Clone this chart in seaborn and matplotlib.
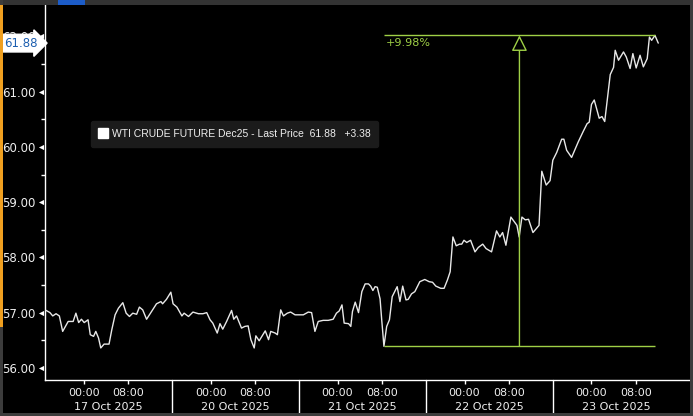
import numpy as np
import pandas as pd
import matplotlib
matplotlib.use('Agg')
import matplotlib.pyplot as plt
import matplotlib.transforms as mtransforms
from matplotlib.lines import Line2D
from matplotlib.patches import Rectangle
import seaborn as sns

# trading hours since the 17 Oct session open (each session compressed to 23 h, 17:00 -> 16:00)
hours = [0.2, 0.9, 1.4, 2.0, 2.6, 3.2, 4.2, 5.1, 5.6, 6.1, 6.6, 7.1, 7.8, 8.2, 8.8, 9.2, 9.7,
         10.1, 10.7, 11.6, 12.1, 12.7, 13.3, 14.1, 14.7, 15.3, 15.9, 16.6, 17.1, 17.7, 18.4,
         19.3, 20.2, 21.0, 21.3, 22.0, 22.8, 23.2, 23.9, 24.8, 25.2, 26.0, 26.8, 27.8, 28.6,
         29.3, 29.9, 30.4, 31.2, 31.7, 32.2, 32.9, 33.8, 34.2, 34.7, 35.6, 36.2, 36.8, 37.3,
         37.9, 38.2, 38.8, 39.9, 40.5, 40.9, 41.7, 42.1, 42.7, 43.2, 43.9, 44.5, 45.3, 46.8,
         47.7, 48.3, 48.9, 49.5, 50.4, 51.3, 52.2, 52.8, 53.3, 53.8, 54.2, 55.0, 55.4, 55.7,
         56.2, 56.8, 57.4, 58.0, 58.6, 59.0, 59.4, 59.8, 60.2, 60.7, 61.0, 61.4, 61.9, 62.4,
         62.9, 63.8, 64.3, 64.8, 65.4, 65.8, 66.4, 67.0, 67.9, 68.8, 69.6, 70.2, 70.8, 71.7,
         72.3, 72.9, 73.4, 73.9, 74.5, 75.1, 75.5, 75.9, 76.4, 77.1, 77.9, 78.5, 79.3, 79.9,
         80.9, 81.8, 82.4, 82.9, 83.5, 84.4, 85.5, 85.9, 86.4, 87.0, 87.6, 88.4, 89.5, 90.0,
         90.8, 91.5, 92.0, 92.7, 93.6, 94.0, 94.5, 95.4, 96.6, 97.5, 98.2, 98.6, 99.0, 99.5,
         100.4, 100.9, 101.4, 102.0, 102.4, 103.0, 103.3, 103.9, 104.8, 105.3, 106.0, 106.5,
         107.1, 107.8, 108.4, 109.1, 109.5, 109.9, 110.5, 111.1]
prices = [57.04, 57.00, 56.94, 56.98, 56.94, 56.66, 56.84, 56.84, 56.99, 56.82, 56.88, 56.82,
          56.87, 56.60, 56.57, 56.66, 56.54, 56.36, 56.43, 56.43, 56.69, 56.96, 57.08, 57.18,
          56.99, 56.93, 56.99, 56.97, 57.10, 57.05, 56.88, 57.02, 57.16, 57.20, 57.16, 57.24,
          57.37, 57.16, 57.10, 56.94, 56.99, 56.93, 57.01, 56.98, 56.98, 57.00, 56.87, 56.81,
          56.63, 56.80, 56.70, 56.84, 57.04, 56.88, 56.94, 56.72, 56.75, 56.76, 56.51, 56.36,
          56.58, 56.49, 56.67, 56.51, 56.66, 56.63, 56.60, 57.05, 56.94, 56.99, 57.01, 56.96,
          56.96, 57.01, 57.00, 56.66, 56.84, 56.86, 56.86, 56.88, 56.99, 57.03, 57.14, 56.81,
          56.80, 56.75, 57.02, 57.19, 57.00, 57.38, 57.52, 57.52, 57.48, 57.40, 57.47, 57.46,
          57.25, 56.87, 56.39, 56.75, 56.87, 57.29, 57.47, 57.20, 57.48, 57.23, 57.24, 57.34,
          57.38, 57.56, 57.60, 57.56, 57.55, 57.48, 57.44, 57.44, 57.59, 57.74, 58.37, 58.21,
          58.24, 58.24, 58.31, 58.27, 58.31, 58.10, 58.18, 58.24, 58.16, 58.10, 58.48, 58.37,
          58.45, 58.22, 58.73, 58.58, 58.37, 58.73, 58.68, 58.69, 58.45, 58.58, 59.56, 59.31,
          59.39, 59.76, 59.90, 60.14, 60.14, 59.94, 59.81, 60.09, 60.28, 60.42, 60.45, 60.77,
          60.85, 60.52, 60.55, 60.46, 60.97, 61.31, 61.44, 61.75, 61.57, 61.72, 61.63, 61.42,
          61.69, 61.43, 61.66, 61.45, 61.60, 61.99, 61.93, 62.02, 61.88]

days = ['17 Oct 2025', '20 Oct 2025', '21 Oct 2025', '22 Oct 2025', '23 Oct 2025']
session_len = 23
clock_labels = ['00:00', '08:00']
clock_offsets = [7, 15]
y_ticks = [56, 57, 58, 59, 60, 61, 62]
series_name = 'WTI CRUDE FUTURE Dec25 - Last Price'
last_price = 61.88
net_change = 3.38
pct_label = '+9.98%'

GREEN = '#9fd046'
TXT = '#eeeeee'

sns.set_theme(style='dark', rc={'axes.facecolor': 'black', 'figure.facecolor': 'black'})
plt.rcParams['font.family'] = ['DejaVu Sans']

df = pd.DataFrame({'hours': hours, 'price': prices})

fig = plt.figure(figsize=(6.93, 4.16), dpi=100, facecolor='black')
ax = fig.add_axes([45 / 693, 36 / 416, 645 / 693, 375 / 416])
ax.set_facecolor('black')

sns.lineplot(data=df, x='hours', y='price', color='#e8e8e8', lw=1, ax=ax, zorder=3)

ax.set_xlim(0, 116.85)
ax.set_ylim(55.78, 62.57)
ax.set_xlabel('')
ax.set_ylabel('')
ax.grid(False)
for s in ['top', 'right']:
    ax.spines[s].set_visible(False)
for s in ['left', 'bottom']:
    ax.spines[s].set_color('white')
    ax.spines[s].set_linewidth(1)

# y axis
ax.set_yticks(y_ticks)
ax.set_yticklabels([f'{v:.2f}' for v in y_ticks])
ax.set_yticks(np.arange(56.5, 62.5, 1), minor=True)
ax.tick_params(axis='y', which='major', length=0, pad=7, labelsize=8.5, labelcolor=TXT)
ax.tick_params(axis='y', which='minor', length=3, width=1, color='white', left=True)
ytr = mtransforms.blended_transform_factory(ax.transAxes, ax.transData)
ax.scatter([-0.0062] * len(y_ticks), y_ticks, marker='<', s=14, color='white',
           transform=ytr, clip_on=False, zorder=5, linewidths=0)

# x axis
xt, xl = [], []
for k in range(len(days)):
    for off, lab in zip(clock_offsets, clock_labels):
        xt.append(k * session_len + off)
        xl.append(lab)
ax.set_xticks(xt)
ax.set_xticklabels(xl)
ax.tick_params(axis='x', which='major', length=3, width=1, color='white', pad=3,
               labelsize=8, labelcolor=TXT, bottom=True)
xtr = ax.get_xaxis_transform()
for k, d in enumerate(days):
    ax.text(k * session_len + 11.5, -0.072, d, transform=xtr, ha='center', va='center',
            fontsize=8, color=TXT)
    if k > 0:
        ax.plot([k * session_len] * 2, [0, -0.092], color='white', lw=1,
                transform=xtr, clip_on=False)

# price change measurement
lo = df.loc[df.hours > 60, 'price'].idxmin()
hi = df['price'].idxmax()
t0, p0 = df.loc[lo, 'hours'], df.loc[lo, 'price']
t1, p1 = df.loc[hi, 'hours'], df.loc[hi, 'price']
ax.hlines([p0, p1], t0, t1, color=GREEN, lw=1, zorder=4)
tm = (t0 + t1) / 2
ax.annotate('', xy=(tm, p1), xytext=(tm, p0),
            arrowprops=dict(arrowstyle='-|>,head_length=0.8,head_width=0.4',
                            ec=GREEN, fc='black', lw=1, shrinkA=0, shrinkB=0), zorder=4)
ax.text(t0 + 0.4, p1 - 0.04, pct_label, color=GREEN, fontsize=8, va='top', ha='left')

# last price tag (sits over the 62.00 label, as in the terminal)
ax.text(-0.0115, last_price, f'{last_price:.2f}', transform=ytr, ha='right', va='center',
        fontsize=8.5, color='#1d5fb0', zorder=10, clip_on=False,
        bbox=dict(boxstyle='rarrow,pad=0.2', fc='white', ec='white'))

# legend
handle = Line2D([], [], marker='s', ls='none', color='white', markersize=7)
leg = ax.legend([handle], [f'{series_name}  {last_price:.2f}   +{net_change:.2f}'],
                loc='upper left', bbox_to_anchor=((91 - 45) / 645, (380 - 121) / 375),
                frameon=True, facecolor='#1b1b1b', edgecolor='#1b1b1b',
                handlelength=0.8, handletextpad=0.45, borderpad=0.75, borderaxespad=0,
                prop={'family': 'Liberation Sans', 'size': 7.5})
for t in leg.get_texts():
    t.set_color(TXT)
leg.get_frame().set_alpha(1)

# terminal frame
fig.patches.append(Rectangle((0, 1 - 5 / 416), 1, 5 / 416, transform=fig.transFigure,
                             fc='#333333', ec='none'))
fig.patches.append(Rectangle((58 / 693, 1 - 5 / 416), 27 / 693, 5 / 416,
                             transform=fig.transFigure, fc='#1c5cc8', ec='none'))
fig.patches.append(Rectangle((0, 0), 3 / 693, 1, transform=fig.transFigure,
                             fc='#3c3c3c', ec='none'))
fig.patches.append(Rectangle((0, 89 / 416), 3 / 693, 1 - 94 / 416, transform=fig.transFigure,
                             fc='#f0a020', ec='none'))
fig.patches.append(Rectangle((690 / 693, 0), 3 / 693, 1, transform=fig.transFigure,
                             fc='#3c3c3c', ec='none'))
fig.patches.append(Rectangle((0, 0), 1, 3 / 416, transform=fig.transFigure,
                             fc='#3c3c3c', ec='none'))

fig.savefig('out.png', dpi=100, facecolor='black')
